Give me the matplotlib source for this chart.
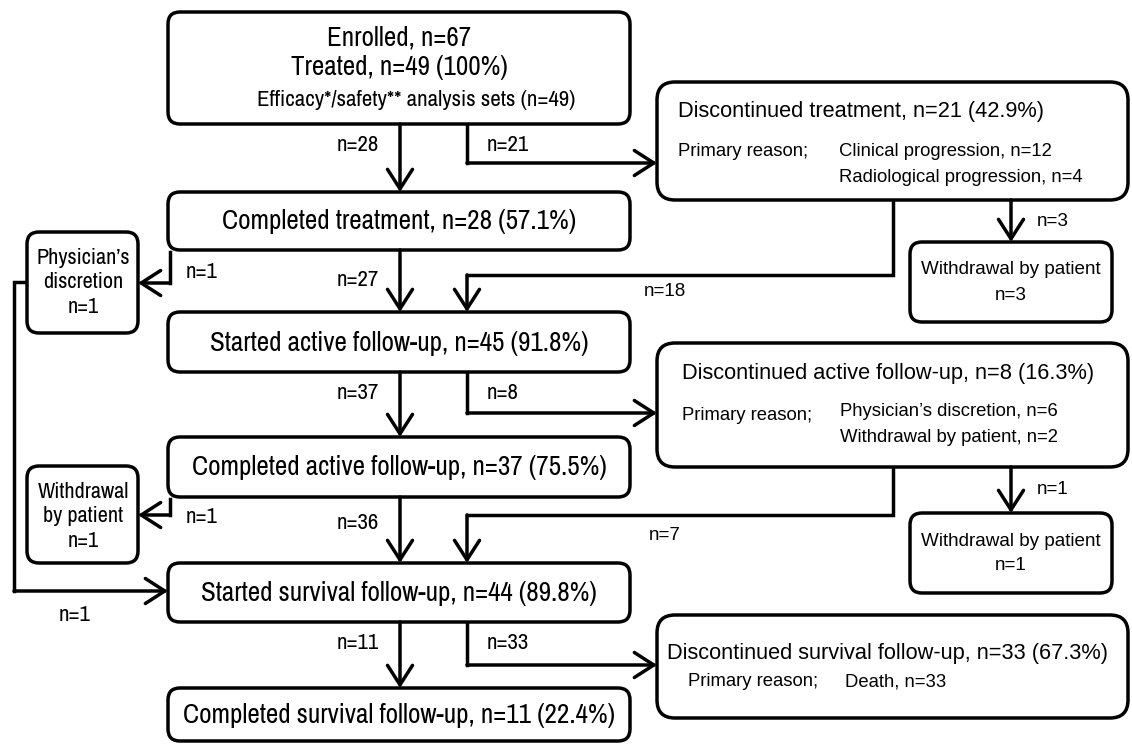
import matplotlib
matplotlib.use("Agg")
import matplotlib.pyplot as plt
from matplotlib.patches import FancyBboxPatch
from matplotlib import font_manager

# fonts: a narrow face for the main column, regular for the right-hand boxes
REG = "Liberation Sans"
try:
    font_manager.findfont("Archivo Narrow", fallback_to_default=False)
    NARROW, NSCALE = "Archivo Narrow", 1.0
except Exception:
    NARROW, NSCALE = "Liberation Sans", 0.82

# ---- data (texts and counts) ----
main_texts = [
    ["Enrolled, n=67", "Treated, n=49 (100%)"],
    ["Completed treatment, n=28 (57.1%)"],
    ["Started active follow-up, n=45 (91.8%)"],
    ["Completed active follow-up, n=37 (75.5%)"],
    ["Started survival follow-up, n=44 (89.8%)"],
    ["Completed survival follow-up, n=11 (22.4%)"],
]
analysis_sets = "Efficacy*/safety** analysis sets (n=49)"
down_counts = ["n=28", "n=27", "n=37", "n=36", "n=11"]
branch_counts = ["n=21", "n=8", "n=33"]
return_counts = ["n=18", "n=7"]
withdraw_counts = ["n=3", "n=1"]
left_texts = [["Physician\u2019s", "discretion", "n=1"],
              ["Withdrawal", "by patient", "n=1"]]
left_counts = ["n=1", "n=1"]
left_return_count = "n=1"
disc_titles = ["Discontinued treatment, n=21 (42.9%)",
               "Discontinued active follow-up, n=8 (16.3%)",
               "Discontinued survival follow-up, n=33 (67.3%)"]
disc_reasons = [["Clinical progression, n=12", "Radiological progression, n=4"],
                ["Physician\u2019s discretion, n=6", "Withdrawal by patient, n=2"],
                ["Death, n=33"]]
withdraw_texts = [["Withdrawal by patient", "n=3"], ["Withdrawal by patient", "n=1"]]

# ---- layout (pixels) ----
LW = 2.5
fig = plt.figure(figsize=(11.32, 7.44), dpi=100)
ax = fig.add_axes([0, 0, 1, 1])
ax.set_xlim(0, 1132)
ax.set_ylim(744, 0)
ax.axis("off")


def box(x0, y0, x1, y1, r=12):
    ax.add_patch(FancyBboxPatch((x0, y0), x1 - x0, y1 - y0,
                                boxstyle=f"round,pad=0,rounding_size={r}",
                                lw=LW, ec="black", fc="white", zorder=2))


def path_arrow(pts):
    xs = [p[0] for p in pts]
    ys = [p[1] for p in pts]
    if len(pts) > 2:
        ax.plot(xs[:-1], ys[:-1], color="black", lw=LW,
                solid_capstyle="projecting", solid_joinstyle="miter", zorder=1)
    ax.annotate("", xy=pts[-1], xytext=pts[-2],
                arrowprops=dict(arrowstyle="->,head_length=0.7,head_width=0.45",
                                lw=LW, color="black", shrinkA=0, shrinkB=0,
                                mutation_scale=20),
                zorder=3)


def nlabel(x, y, s, size, ha="center"):
    ax.text(x, y, s, ha=ha, va="center", fontsize=size * NSCALE, family=NARROW, zorder=4)


def rlabel(x, y, s, size, ha="left"):
    ax.text(x, y, s, ha=ha, va="center", fontsize=size, family=REG, zorder=4)


# main column
MX0, MX1, MCX = 168, 630, 399
main_y = [(12, 124), (192, 250), (312, 372), (437, 497), (563, 622), (688, 741)]
for (y0, y1), lines in zip(main_y, main_texts):
    box(MX0, y0, MX1, y1)
    if len(lines) == 2:
        nlabel(MCX, 38, lines[0], 19.5)
        nlabel(MCX, 68, lines[1], 19.5)
    else:
        nlabel(MCX, (y0 + y1) / 2 + 1, lines[0], 19.5)
nlabel(416, 100, analysis_sets, 16.5)

# down arrows in main column
AX = 400
down_label_y = [145, 280, 393, 523, 643]
for i, cnt in enumerate(down_counts):
    path_arrow([(AX, main_y[i][1]), (AX, main_y[i + 1][0])])
    nlabel(358, down_label_y[i], cnt, 16.5)

# right-hand discontinued boxes
RX0, RX1 = 657, 1128
disc_y = [(82, 200), (343, 467), (615, 718)]
branch_from = [0, 2, 4]
branch_y = [163, 413, 665]
for k in range(3):
    y0, y1 = disc_y[k]
    box(RX0, y0, RX1, y1, r=18)
    by = main_y[branch_from[k]][1]
    path_arrow([(467, by), (467, branch_y[k]), (RX0, branch_y[k])])
    nlabel(487, by + 21, branch_counts[k], 16.5, ha="left")

rlabel(678, 112, disc_titles[0], 15.7)
rlabel(678, 152, "Primary reason;", 13.3)
rlabel(839, 152, disc_reasons[0][0], 13.3)
rlabel(839, 177, disc_reasons[0][1], 13.3)

rlabel(682, 373, disc_titles[1], 15.7)
rlabel(682, 415, "Primary reason;", 13.3)
rlabel(840, 412, disc_reasons[1][0], 13.3)
rlabel(840, 438, disc_reasons[1][1], 13.3)

rlabel(667, 653, disc_titles[2], 15.7)
rlabel(688, 682, "Primary reason;", 13.3)
rlabel(845, 682, disc_reasons[2][0], 13.3)

# returns from discontinued boxes back into main column
ret_y = [275, 515]
ret_label_y = [292, 535]
for k in range(2):
    path_arrow([(893, disc_y[k][1]), (893, ret_y[k]), (467, ret_y[k]),
                (467, main_y[2 * k + 2][0])])
    rlabel(665, ret_label_y[k], return_counts[k], 13.5, ha="center")

# withdrawal boxes on the right
wd_y = [(242, 322), (513, 593)]
for k in range(2):
    y0, y1 = wd_y[k]
    box(910, y0, 1112, y1)
    path_arrow([(1011, disc_y[k][1]), (1011, y0)])
    rlabel(1053, disc_y[k][1] + 22, withdraw_counts[k], 13.6, ha="center")
    rlabel(1011, y0 + 28, withdraw_texts[k][0], 13.6, ha="center")
    rlabel(1011, y0 + 53, withdraw_texts[k][1], 13.6, ha="center")

# left-hand boxes
left_y = [(232, 333), (466, 563)]
left_arrow_y = [283, 515]
left_label_y = [272, 517]
for k in range(2):
    y0, y1 = left_y[k]
    box(27, y0, 138, y1)
    for j, t in enumerate(left_texts[k]):
        nlabel(83, y0 + 26 + 24.5 * j, t, 16)
    src = main_y[2 * k + 1][1]
    path_arrow([(170, src + 2), (170, left_arrow_y[k]), (138, left_arrow_y[k])])
    nlabel(202, left_label_y[k], left_counts[k], 16.5)

# physician's discretion goes on to survival follow-up
path_arrow([(27, 282), (14, 282), (14, 591), (MX0, 591)])
nlabel(75, 615, left_return_count, 16.5)

fig.savefig("out.png", dpi=100)
